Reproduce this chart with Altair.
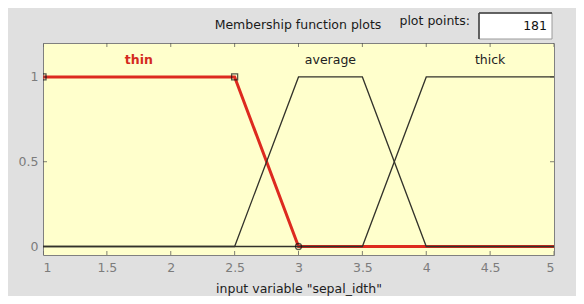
import altair as alt
import pandas as pd

# membership functions of input variable "sepal_idth"
thin_x = [1, 2.5, 3, 5]
thin_y = [1, 1, 0, 0]
average_x = [1, 2.5, 3, 3.5, 4, 5]
average_y = [0, 0, 1, 1, 0, 0]
thick_x = [1, 3.5, 4, 5]
thick_y = [0, 0, 1, 1]

mf_names = ["thin", "average", "thick"]
mf_label_x = [1.75, 3.25, 4.5]
mf_label_y = [1.1, 1.1, 1.1]

marker_x = [1, 2.5, 3]
marker_y = [1, 1, 0]
marker_shape = ["square", "square", "circle"]

x_ticks = [1, 1.5, 2, 2.5, 3, 3.5, 4, 4.5, 5]
y_ticks = [0, 0.5, 1]
plot_points = "181"

rows = []
for name, xs_, ys_ in [("thin", thin_x, thin_y), ("average", average_x, average_y), ("thick", thick_x, thick_y)]:
    for i, (a, b) in enumerate(zip(xs_, ys_)):
        rows.append({"mf": name, "x": a, "y": b, "o": i})
df = pd.DataFrame(rows)
labels = pd.DataFrame({"mf": mf_names, "x": mf_label_x, "y": mf_label_y})
markers = pd.DataFrame({"x": marker_x, "y": marker_y, "shape": marker_shape})
xt = pd.DataFrame({"x": x_ticks})
yt = pd.DataFrame({"y": y_ticks})

FONT = "DejaVu Sans"
FS = 12.5
TICK = "#4a4a4a"
W, H = 511, 212
xs = alt.Scale(domain=[1, 5], nice=False, zero=False)
ys = alt.Scale(domain=[-0.05, 1.2], nice=False, zero=False)

x_axis = alt.X("x:Q", scale=xs, axis=alt.Axis(
    values=x_ticks, format=".1~f", ticks=False, tickSize=0, domain=False, grid=False,
    labelFontSize=FS, labelColor="#7c7c7c", labelFont=FONT, labelPadding=6,
    title='input variable "sepal_idth"', titleFontSize=FS, titleFont=FONT, titleFontWeight="normal",
    titleColor="#202020", titlePadding=9))
y_axis = alt.Y("y:Q", scale=ys, axis=alt.Axis(
    values=y_ticks, format=".1~f", ticks=False, tickSize=0, domain=False, grid=False,
    labelFontSize=FS, labelColor="#7c7c7c", labelFont=FONT, labelPadding=5, title=None))

red = alt.Chart(df).transform_filter(alt.datum.mf == "thin").mark_line(
    color="#dd2a1f", strokeWidth=3, clip=True).encode(x=x_axis, y=y_axis, order="o:Q")

black = alt.Chart(df).transform_filter(alt.datum.mf != "thin").mark_line(
    color="#33332b", strokeWidth=1.3, clip=True).encode(x=x_axis, y=y_axis, detail="mf:N", order="o:Q")

pts = alt.Chart(markers).mark_point(filled=False, color="#111111", strokeWidth=1.3, size=36, clip=True).encode(
    x=x_axis, y=y_axis, shape=alt.Shape("shape:N", scale=None, legend=None))

# inward tick marks on all four sides of the frame
tick_bottom = alt.Chart(xt).mark_tick(color=TICK, thickness=1, size=8, clip=True, orient="vertical").encode(
    x=x_axis, y=alt.value(H))
tick_top = alt.Chart(xt).mark_tick(color=TICK, thickness=1, size=8, clip=True, orient="vertical").encode(
    x=x_axis, y=alt.value(0))
tick_left = alt.Chart(yt).mark_tick(color=TICK, thickness=1, size=8, clip=True, orient="horizontal").encode(
    y=y_axis, x=alt.value(0))
tick_right = alt.Chart(yt).mark_tick(color=TICK, thickness=1, size=8, clip=True, orient="horizontal").encode(
    y=y_axis, x=alt.value(W))

lab_sel = alt.Chart(labels).transform_filter(alt.datum.mf == "thin").mark_text(
    fontSize=FS, font=FONT, baseline="middle", fontWeight="bold", color="#d42a1e").encode(
    x=x_axis, y=y_axis, text="mf:N")
lab_other = alt.Chart(labels).transform_filter(alt.datum.mf != "thin").mark_text(
    fontSize=FS, font=FONT, baseline="middle", color="#222222").encode(
    x=x_axis, y=y_axis, text="mf:N")

title = alt.Chart(pd.DataFrame({"t": ["Membership function plots"]})).mark_text(
    fontSize=FS, font=FONT, color="#1a1a1a", align="center", baseline="middle").encode(
    x=alt.value(255), y=alt.value(-18), text="t:N")
pp_label = alt.Chart(pd.DataFrame({"t": ["plot points:"]})).mark_text(
    fontSize=FS, font=FONT, color="#1a1a1a", align="right", baseline="middle").encode(
    x=alt.value(427), y=alt.value(-22), text="t:N")
box = alt.Chart(pd.DataFrame({"t": [plot_points]})).mark_rect(
    fill="white", stroke="#9a9a9a", strokeWidth=1).encode(
    x=alt.value(436), x2=alt.value(509), y=alt.value(-30), y2=alt.value(-4))
box_top = alt.Chart(pd.DataFrame({"t": [plot_points]})).mark_rule(color="#404040", strokeWidth=1.5).encode(
    x=alt.value(436), x2=alt.value(509), y=alt.value(-30))
box_left = alt.Chart(pd.DataFrame({"t": [plot_points]})).mark_rule(color="#404040", strokeWidth=1.5).encode(
    x=alt.value(436), y=alt.value(-30), y2=alt.value(-4))
pp_val = alt.Chart(pd.DataFrame({"t": [plot_points]})).mark_text(
    fontSize=FS, font=FONT, color="#111111", align="right", baseline="middle").encode(
    x=alt.value(504), y=alt.value(-17), text="t:N")

chart = alt.layer(
    red, tick_bottom, tick_top, tick_left, tick_right, black, pts, lab_sel, lab_other,
    title, pp_label, box, box_top, box_left, pp_val
).properties(
    width=W, height=H,
    autosize=alt.AutoSizeParams(type="none"),
    padding={"left": 35, "top": 35, "right": 22, "bottom": 41},
    background="#e0e0e0",
).configure_view(fill="#ffffcc", stroke="#808080", strokeWidth=1)

chart.save("out.html", embed_options={"renderer": "svg", "actions": False})
